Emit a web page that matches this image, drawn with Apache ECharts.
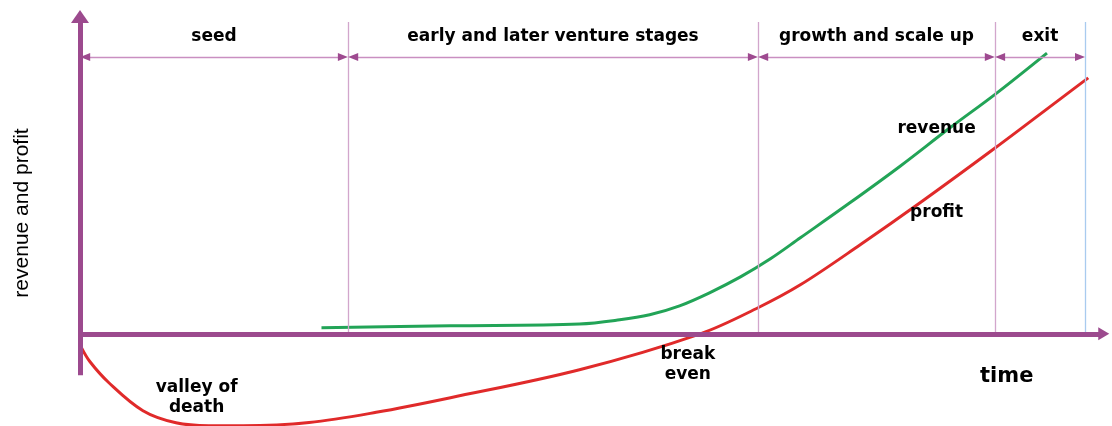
<!DOCTYPE html>
<html>
<head>
<meta charset="utf-8">
<script src="https://cdn.jsdelivr.net/npm/echarts@6/dist/echarts.min.js"></script>
<style>
html,body{margin:0;padding:0;background:#fff;}
#chart{width:1112px;height:426px;}
</style>
</head>
<body>
<div id="chart"></div>
<script>
// ---- data (time in % of the lifecycle, value in % of max) ----
const stageNames = ['seed', 'early and later venture stages', 'growth and scale up', 'exit'];
const stageBounds = [0, 25.97, 65.7, 88.66, 97.4];

const revenueTime  = [23.4, 35.9, 48.4, 52.3, 55.2, 58.1, 61.0, 64.0, 66.9, 69.8, 74.6, 79.5, 84.3, 88.7, 93.7];
const revenueValue = [1.9, 2.5, 3.1, 4.4, 6.0, 8.8, 12.9, 17.9, 23.6, 30.2, 41.2, 52.8, 64.8, 75.4, 88.3];

const profitTime  = [0.1, 0.97, 2.8, 6.1, 9.3, 12.5, 15.8, 22.2, 28.7, 35.9, 48.4, 60.1, 65.7, 69.8, 75.6, 81.4, 88.7, 95.0, 97.7];
const profitValue = [-4.1, -8.8, -15.4, -24.2, -28.0, -28.9, -28.9, -27.9, -24.7, -20.1, -11.3, 0, 8.2, 15.4, 28.0, 41.2, 58.5, 73.9, 80.5];

const noteTexts = ['valley of\ndeath', 'break\neven', 'revenue', 'profit', 'time'];
const noteTime  = [11.3, 58.9, 83.0, 83.0, 89.8];
const noteValue = [-20.1, -9.7, 64.4, 38.0, -13.5];

const stageLabelLevel = 93.4;
const stageArrowLevel = 87.1;
const dividerTop = 98.1;
const yAxisBottom = -13;
const yAxisTop = 99.8;
const xAxisEnd = 99.2;

// ---- styles ----
const PURPLE = '#9c4a8e';
const DIV_PURPLE = '#d2a6cc';
const DIV_BLUE = '#a9cbef';
const ARROW_LINE = '#c98fc1';
const ARROW_HEAD = '#9e4a90';
const GREEN = '#22a457';
const RED = '#e02a2a';
const TXT = '#000000';
const FONT = 'DejaVu Sans';

const zip = (a, b) => a.map((v, i) => [v, b[i]]);

// dividers
const dividerLines = stageBounds.slice(1).map((b, i) => [
  { coord: [b, 0], symbol: 'none',
    lineStyle: { color: i === stageBounds.length - 2 ? DIV_BLUE : DIV_PURPLE, width: 1.3, type: 'solid' } },
  { coord: [b, dividerTop], symbol: 'none' }
]);

// double arrows per stage
const arrowInset = 0.5;
const stageSpans = stageNames.map((n, i) => [
  { coord: [stageBounds[i] + arrowInset, stageArrowLevel], symbol: 'none' },
  { coord: [stageBounds[i + 1] - arrowInset, stageArrowLevel], symbol: 'none' }
]);
const stageHeads = stageNames.map((n, i) => [
  { coord: [stageBounds[i] + arrowInset, stageArrowLevel], symbol: 'triangle', symbolSize: [8, 10] },
  { coord: [stageBounds[i + 1] - arrowInset, stageArrowLevel], symbol: 'triangle', symbolSize: [8, 10] }
]);

// axes
const axisLines = [
  [ { coord: [0, 0], symbol: 'none' }, { coord: [xAxisEnd, 0], symbol: 'triangle', symbolSize: [13, 11] } ],
  [ { coord: [0, yAxisBottom], symbol: 'none' }, { coord: [0, yAxisTop], symbol: 'triangle', symbolSize: [18, 13] } ]
];

const stageLabelData = stageNames.map((n, i) => ({
  name: n, value: [(stageBounds[i] + stageBounds[i + 1]) / 2, stageLabelLevel]
}));

const noteData = noteTexts.map((t, i) => ({
  name: t, value: [noteTime[i], noteValue[i]],
  label: t === 'time' ? { fontSize: 21 } : {}
}));

const labelStyle = { show: true, position: 'inside', formatter: '{b}', color: TXT, opacity: 1,
  fontFamily: FONT, fontWeight: 'bold', fontSize: 17, lineHeight: 20, align: 'center',
  textBorderWidth: 0 };

const chart = echarts.init(document.getElementById('chart'), null, { renderer: 'canvas' });
chart.setOption({
  animation: false,
  backgroundColor: '#ffffff',
  grid: { left: 80, top: 0, width: 1032, height: 426, containLabel: false, outerBoundsMode: 'none' },
  xAxis: {
    type: 'value', min: 0, max: 100,
    axisLine: { show: false }, axisTick: { show: false }, axisLabel: { show: false }, splitLine: { show: false }
  },
  yAxis: {
    type: 'value', min: -29, max: 105,
    name: 'revenue and profit', nameLocation: 'middle', nameRotate: 90, nameGap: 47,
    nameTextStyle: { fontFamily: 'Liberation Sans', fontSize: 21, color: TXT },
    axisLine: { show: false }, axisTick: { show: false }, axisLabel: { show: false }, splitLine: { show: false }
  },
  series: [
    {
      type: 'line', name: 'frame', data: [], silent: true, clip: false, z: 1,
      markLine: {
        silent: true, animation: false, symbol: 'none',
        label: { show: false },
        lineStyle: { color: DIV_PURPLE, width: 1.3, type: 'solid' },
        data: dividerLines
      }
    },
    {
      type: 'line', name: 'stages', data: [], silent: true, clip: false, z: 2,
      markLine: {
        silent: true, animation: false, symbol: 'none',
        label: { show: false },
        lineStyle: { color: ARROW_LINE, width: 1.3, type: 'solid' },
        data: stageSpans
      }
    },
    {
      type: 'line', name: 'stageHeads', data: [], silent: true, clip: false, z: 2,
      markLine: {
        silent: true, animation: false,
        label: { show: false },
        lineStyle: { color: ARROW_HEAD, width: 0, type: 'solid' },
        itemStyle: { color: ARROW_HEAD },
        data: stageHeads
      }
    },
    {
      type: 'line', name: 'revenue', data: zip(revenueTime, revenueValue),
      smooth: 0.35, showSymbol: false, clip: false, z: 3,
      lineStyle: { color: GREEN, width: 3 }, itemStyle: { color: GREEN }
    },
    {
      type: 'line', name: 'profit', data: zip(profitTime, profitValue),
      smooth: 0.35, showSymbol: false, clip: false, z: 3,
      lineStyle: { color: RED, width: 3 }, itemStyle: { color: RED }
    },
    {
      type: 'line', name: 'axes', data: [], silent: true, clip: false, z: 4,
      markLine: {
        silent: true, animation: false,
        label: { show: false },
        lineStyle: { color: PURPLE, width: 5, type: 'solid' },
        itemStyle: { color: PURPLE },
        data: axisLines
      }
    },
    {
      type: 'scatter', name: 'stageLabels', data: stageLabelData, symbolSize: 0, silent: true, z: 5,
      itemStyle: { opacity: 1 },
      label: labelStyle
    },
    {
      type: 'scatter', name: 'notes', data: noteData, symbolSize: 0, silent: true, z: 5,
      itemStyle: { opacity: 1 },
      label: labelStyle
    }
  ]
});
</script>
</body>
</html>
